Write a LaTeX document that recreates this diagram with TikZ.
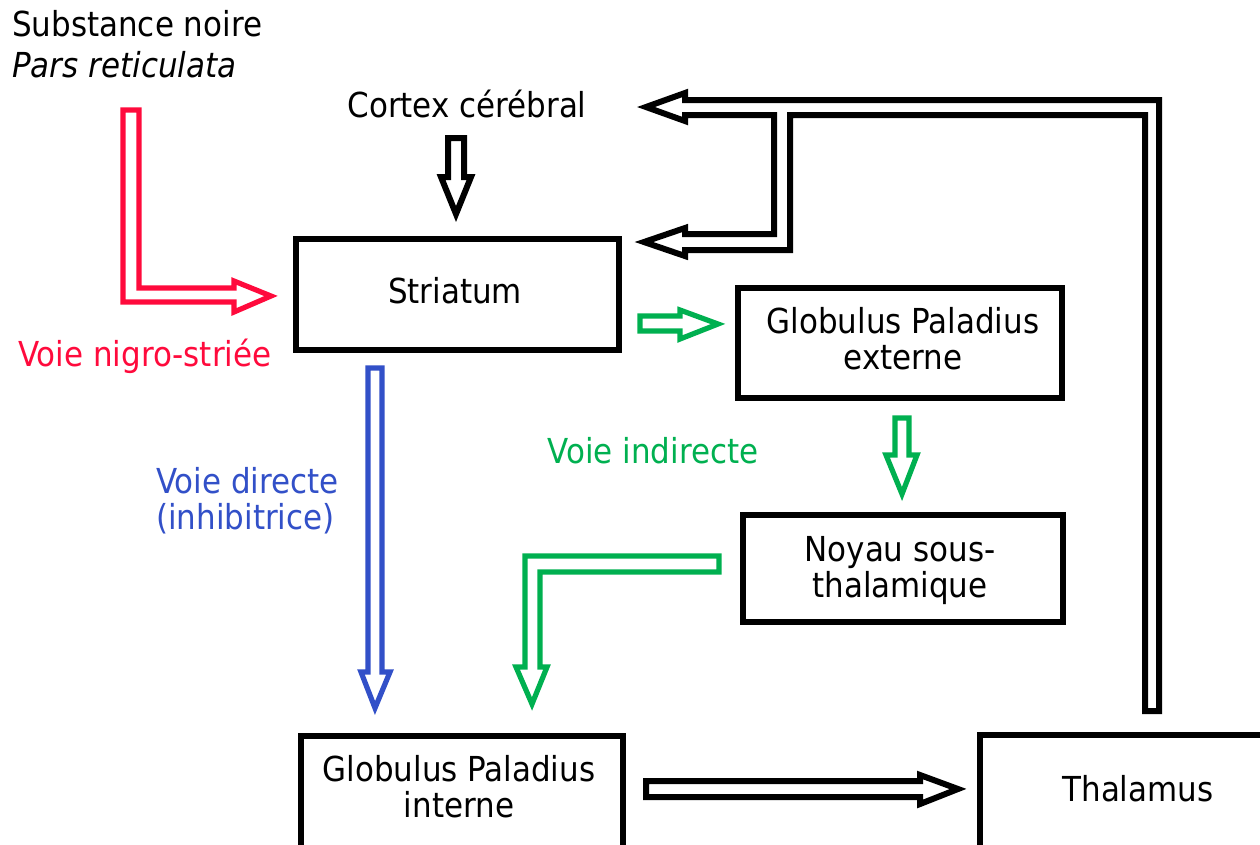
\documentclass[tikz,border=0pt]{standalone}
\usepackage{fontspec}
\setmainfont{DejaVu Sans Condensed}
\usetikzlibrary{fit}
\definecolor{nred}{RGB}{255,10,60}
\definecolor{ngreen}{RGB}{0,176,80}
\definecolor{nblue}{RGB}{50,80,200}
\begin{document}
\begin{tikzpicture}[x=0.75pt,y=-0.75pt,
  every node/.style={inner sep=0pt, font=\fontsize{25.8}{27}\selectfont},
  box/.style={draw=black, line width=5pt},
  blockarrow/.style={draw=#1, line width=4.5pt, line join=miter},
  colarrow/.style={draw=#1, line width=3.9pt, line join=miter},
  lbl/.style={anchor=base}]
\useasboundingbox (0,0) rectangle (1260,844);
\clip (0,0) rectangle (1260,844);

% boxes
\node[box, fit={(296,239) (619,350)}] (striatum) {};
\node[anchor=base] (strtxt) at (455,303) {Striatum};
\node[box, fit={(738,288) (1062,398)}] (gpe) {};
\node[align=center, anchor=base] (gpetxt) at (903,369) {Globulus Paladius\\externe};
\node[box, fit={(743,515) (1063,622)}] (nst) {};
\node[align=center, anchor=base] (nsttxt) at (900,597) {Noyau sous-\\thalamique};
\node[box, fit={(301,736) (623,900)}] (gpi) {};
\node[align=center, anchor=base] (gpitxt) at (459,817) {Globulus Paladius\\interne};
\node[box, fit={(980,735) (1300,900)}] (thal) {};
\node[anchor=base] (thaltxt) at (1138,801) {Thalamus};

% labels
\node[anchor=base west, align=left, font=\fontsize{25.8}{30.75}\selectfont] (snr) at (12,77) {Substance noire\\\itshape Pars reticulata};
\node[lbl] (cortex) at (467,117) {Cortex cérébral};
\node[lbl, text=nred] (nigro) at (145,366) {Voie nigro-striée};
\node[lbl, text=ngreen] (indir) at (653,463) {Voie indirecte};
\node[anchor=base west, align=left, text=nblue] (dir) at (156,529) {Voie directe\\(inhibitrice)};

% cortex -> striatum
\draw[blockarrow=black] (448,138) -- (464,138) -- (464,177) -- (471,177) -- (456,214) -- (441,177) -- (448,177) -- cycle;
% nigro-striatal
\draw[colarrow=nred] (123,110) -- (139,110) -- (139,288) -- (234,288) -- (234,281) -- (271,296) -- (234,312) -- (234,302) -- (123,302) -- cycle;
% striatum -> GPe
\draw[colarrow=ngreen] (640,316) -- (680,316) -- (680,310) -- (718,324) -- (680,339) -- (680,331) -- (640,331) -- cycle;
% GPe -> NST
\draw[colarrow=ngreen] (895,418) -- (909,418) -- (909,455) -- (917,455) -- (902,494) -- (886,455) -- (895,455) -- cycle;
% NST -> GPi
\draw[colarrow=ngreen] (719,556) -- (719,572) -- (540,572) -- (540,667) -- (547,667) -- (532,704) -- (516,667) -- (525,667) -- (525,556) -- cycle;
% striatum -> GPi (direct)
\draw[colarrow=nblue] (368,368) -- (382,368) -- (382,672) -- (390,672) -- (375,708) -- (361,672) -- (368,672) -- cycle;
% GPi -> thalamus
\draw[blockarrow=black] (646,781) -- (920,781) -- (920,775) -- (958,789) -- (920,804) -- (920,797) -- (646,797) -- cycle;
% thalamus -> cortex & striatum
\draw[blockarrow=black] (646,107) -- (685,93) -- (685,100) -- (1159,100) -- (1159,711) -- (1145,711) -- (1145,115) -- (790,115) -- (790,250) -- (685,250) -- (685,256) -- (644,242) -- (685,228) -- (685,234) -- (774,234) -- (774,115) -- (685,115) -- (685,121) -- cycle;
\end{tikzpicture}
\end{document}
